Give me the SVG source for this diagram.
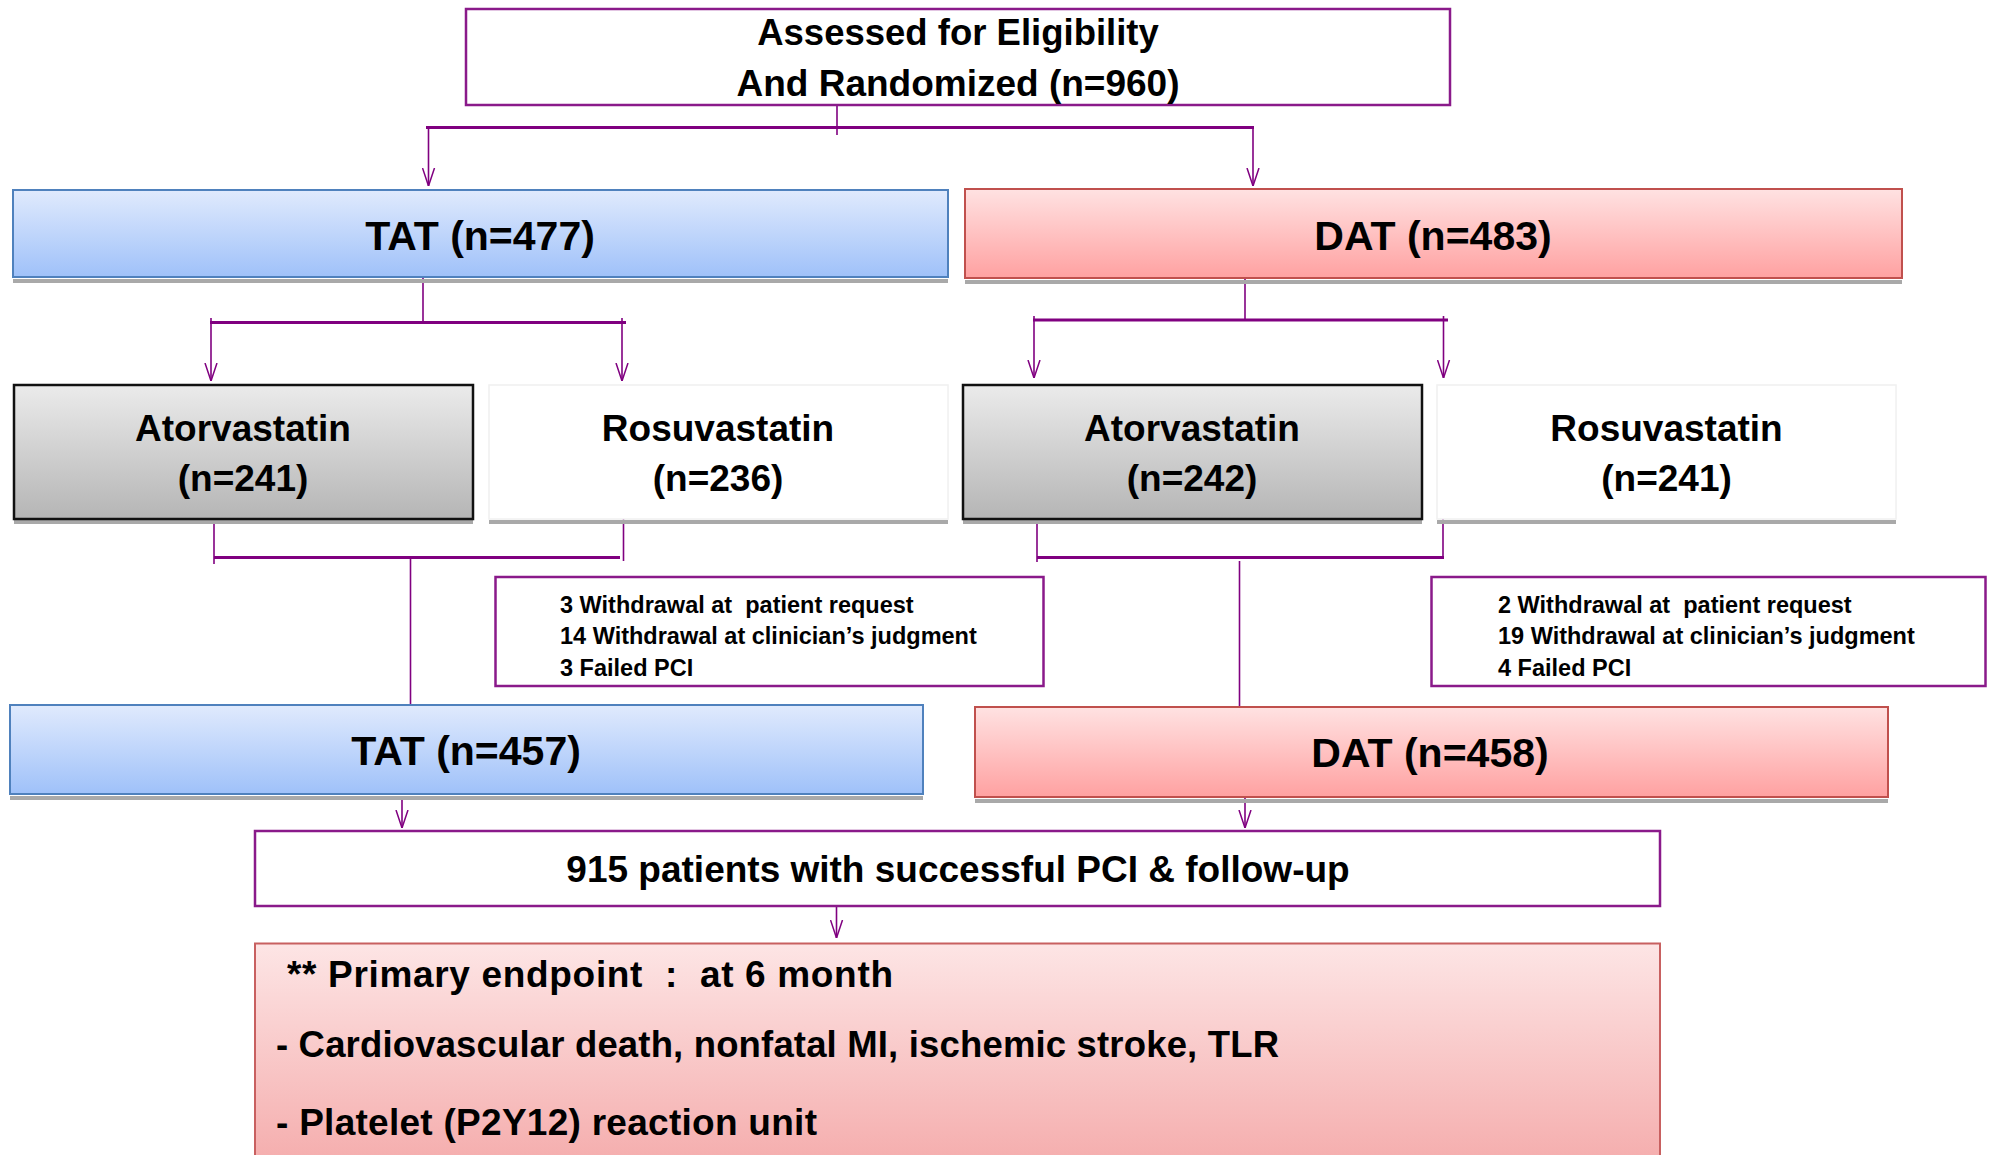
<svg xmlns="http://www.w3.org/2000/svg" width="1991" height="1155" viewBox="0 0 1991 1155">
<defs>
<linearGradient id="gBlue" x1="0" y1="0" x2="0" y2="1"><stop offset="0" stop-color="#e0eafd"/><stop offset="1" stop-color="#9fc1f9"/></linearGradient>
<linearGradient id="gRed" x1="0" y1="0" x2="0" y2="1"><stop offset="0" stop-color="#ffe2e2"/><stop offset="1" stop-color="#ffa1a1"/></linearGradient>
<linearGradient id="gGrey" x1="0" y1="0" x2="0" y2="1"><stop offset="0" stop-color="#ebebeb"/><stop offset="1" stop-color="#b5b5b5"/></linearGradient>
<linearGradient id="gPink" x1="0" y1="0" x2="0" y2="1"><stop offset="0" stop-color="#fde5e5"/><stop offset="1" stop-color="#f4a8a8"/></linearGradient>
<marker id="arr" viewBox="0 0 18 14" refX="18" refY="7" markerWidth="18" markerHeight="14" markerUnits="userSpaceOnUse" orient="auto">
<path d="M0,1 L18,7 L0,13" fill="none" stroke="#800080" stroke-width="1.5"/>
</marker>
</defs>
<style>
text{font-family:"Liberation Sans",Arial,sans-serif;font-weight:bold;fill:#000;white-space:pre}
.c{text-anchor:middle}
.pb{fill:#fff;stroke:#8a1a8a;stroke-width:2.5}
.blue{fill:url(#gBlue);stroke:#4f81bd;stroke-width:2}
.red{fill:url(#gRed);stroke:#c0504d;stroke-width:2}
.grey{fill:url(#gGrey);stroke:#111;stroke-width:2.5}
.wh{fill:#fff;stroke:#f0f0f0;stroke-width:1.5}
.sh{fill:#a9a9a9}
.ln{stroke:#800080;stroke-width:1.6;fill:none}
.lt{stroke:#800080;stroke-width:3;fill:none}
.ar{stroke:#800080;stroke-width:1.6;fill:none;marker-end:url(#arr)}
.big{font-size:41px}
.mid{font-size:37px}
.sm{font-size:23.5px}
</style>
<g id="connectors">
<line class="ln" x1="837" y1="106" x2="837" y2="135"/>
<line class="lt" x1="426" y1="127.5" x2="1254" y2="127.5"/>
<line class="ar" x1="428.5" y1="127" x2="428.5" y2="186"/>
<line class="ar" x1="1253" y1="127" x2="1253" y2="186"/>
<line class="ln" x1="423" y1="278" x2="423" y2="323"/>
<line class="lt" x1="210" y1="322.5" x2="626" y2="322.5"/>
<line class="ar" x1="211" y1="318" x2="211" y2="381"/>
<line class="ar" x1="622" y1="318" x2="622" y2="381"/>
<line class="ln" x1="1245" y1="278" x2="1245" y2="321"/>
<line class="lt" x1="1033" y1="320" x2="1448" y2="320"/>
<line class="ar" x1="1034" y1="316" x2="1034" y2="378"/>
<line class="ar" x1="1443.5" y1="316" x2="1443.5" y2="378"/>
<line class="ln" x1="214" y1="521" x2="214" y2="564"/>
<line class="ln" x1="623.5" y1="517" x2="623.5" y2="561"/>
<line class="lt" x1="214" y1="557.5" x2="620" y2="557.5"/>
<line class="ln" x1="410.5" y1="557.5" x2="410.5" y2="705"/>
<line class="ln" x1="1037" y1="516" x2="1037" y2="562"/>
<line class="ln" x1="1443" y1="513" x2="1443" y2="559"/>
<line class="lt" x1="1037" y1="557.5" x2="1444" y2="557.5"/>
<line class="ln" x1="1239.5" y1="561" x2="1239.5" y2="707"/>
<line class="ar" x1="402" y1="796" x2="402" y2="828"/>
<line class="ar" x1="1245" y1="798" x2="1245" y2="828"/>
<line class="ar" x1="836.5" y1="906" x2="836.5" y2="938"/>
</g>
<g id="assessed">
<rect class="pb" x="466" y="9" width="984" height="96"/>
<text class="c" x="958" y="45" font-size="36.5">Assessed for Eligibility</text>
<text class="c" x="958" y="96" font-size="37">And Randomized (n=960)</text>
</g>
<g id="tat477">
<rect class="sh" x="13" y="279" width="935" height="4"/>
<rect class="blue" x="13" y="190" width="935" height="87"/>
<text class="c big" x="480" y="250">TAT (n=477)</text>
</g>
<g id="dat483">
<rect class="sh" x="965" y="280" width="937" height="4"/>
<rect class="red" x="965" y="189" width="937" height="89"/>
<text class="c big" x="1433" y="250">DAT (n=483)</text>
</g>
<g id="ator1">
<rect class="sh" x="14" y="520" width="459" height="4"/>
<rect class="grey" x="14" y="385" width="459" height="134"/>
<text class="c mid" x="243" y="441">Atorvastatin</text>
<text class="c mid" x="243" y="491">(n=241)</text>
</g>
<g id="rosu1">
<rect class="sh" x="489" y="520" width="459" height="4"/>
<rect class="wh" x="489" y="385" width="459" height="134"/>
<text class="c mid" x="718" y="441">Rosuvastatin</text>
<text class="c mid" x="718" y="491">(n=236)</text>
</g>
<g id="ator2">
<rect class="sh" x="963" y="520" width="459" height="4"/>
<rect class="grey" x="963" y="385" width="459" height="134"/>
<text class="c mid" x="1192" y="441">Atorvastatin</text>
<text class="c mid" x="1192" y="491">(n=242)</text>
</g>
<g id="rosu2">
<rect class="sh" x="1437" y="520" width="459" height="4"/>
<rect class="wh" x="1437" y="385" width="459" height="134"/>
<text class="c mid" x="1666.5" y="441">Rosuvastatin</text>
<text class="c mid" x="1666.5" y="491">(n=241)</text>
</g>
<g id="withdraw1">
<rect class="pb" x="495.5" y="577" width="548" height="109"/>
<text class="sm" x="560" y="612.5">3 Withdrawal at  patient request</text>
<text class="sm" x="560" y="644">14 Withdrawal at clinician’s judgment</text>
<text class="sm" x="560" y="676">3 Failed PCI</text>
</g>
<g id="withdraw2">
<rect class="pb" x="1431.5" y="577" width="554" height="109"/>
<text class="sm" x="1498" y="612.5">2 Withdrawal at  patient request</text>
<text class="sm" x="1498" y="644">19 Withdrawal at clinician’s judgment</text>
<text class="sm" x="1498" y="676">4 Failed PCI</text>
</g>
<g id="tat457">
<rect class="sh" x="10" y="796" width="913" height="4"/>
<rect class="blue" x="10" y="705" width="913" height="89"/>
<text class="c big" x="466" y="765">TAT (n=457)</text>
</g>
<g id="dat458">
<rect class="sh" x="975" y="799" width="913" height="4"/>
<rect class="red" x="975" y="707" width="913" height="90"/>
<text class="c big" x="1430" y="767">DAT (n=458)</text>
</g>
<g id="followup">
<rect class="pb" x="255" y="831" width="1405" height="75"/>
<text class="c" x="958" y="882" font-size="37">915 patients with successful PCI &amp; follow-up</text>
</g>
<g id="endpoint">
<rect x="255" y="943.5" width="1405" height="240" fill="url(#gPink)" stroke="#c86060" stroke-width="2"/>
<text x="287" y="987" font-size="37" textLength="606" lengthAdjust="spacing">** Primary endpoint  :  at 6 month</text>
<text x="276" y="1057" font-size="36.5" textLength="1003" lengthAdjust="spacing">- Cardiovascular death, nonfatal MI, ischemic stroke, TLR</text>
<text x="276" y="1135" font-size="37" textLength="541" lengthAdjust="spacing">- Platelet (P2Y12) reaction unit</text>
</g>
</svg>
